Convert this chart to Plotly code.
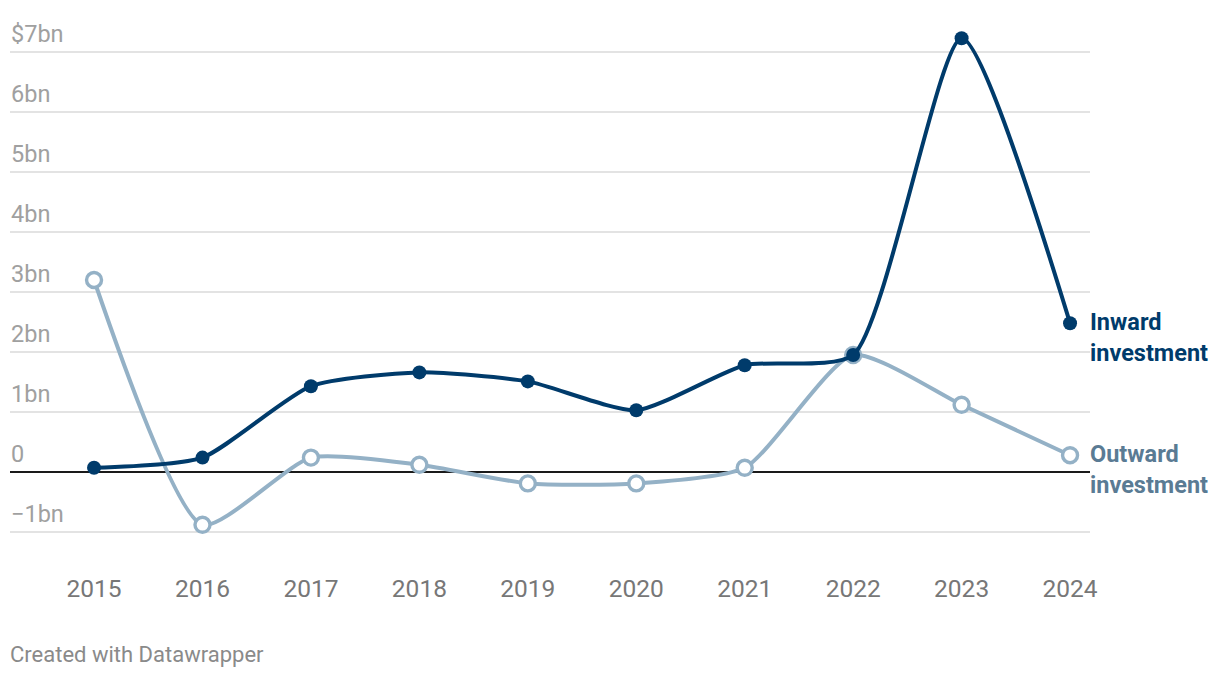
import plotly.graph_objects as go

years = [2015, 2016, 2017, 2018, 2019, 2020, 2021, 2022, 2023, 2024]
inward = [0.07, 0.24, 1.43, 1.66, 1.51, 1.03, 1.78, 1.95, 7.23, 2.48]
outward = [3.20, -0.88, 0.24, 0.12, -0.19, -0.19, 0.07, 1.95, 1.12, 0.28]

y_ticks = [-1, 0, 1, 2, 3, 4, 5, 6, 7]
y_tick_labels = ["\u22121bn", "0", "1bn", "2bn", "3bn", "4bn", "5bn", "6bn", "$7bn"]

INWARD_C = "#003b6b"
OUTWARD_C = "#94b1c6"
OUTWARD_LABEL_C = "#5a7b94"
FONT = "Roboto"

fig = go.Figure()

fig.add_trace(go.Scatter(
    x=years, y=outward, mode="lines+markers",
    line=dict(color=OUTWARD_C, width=4, shape="spline", smoothing=0.6),
    marker=dict(size=15, color="white", line=dict(color=OUTWARD_C, width=3.4)),
    showlegend=False, hoverinfo="skip",
))
fig.add_trace(go.Scatter(
    x=years, y=inward, mode="lines+markers",
    line=dict(color=INWARD_C, width=4, shape="spline", smoothing=0.6),
    marker=dict(size=14, color=INWARD_C),
    showlegend=False, hoverinfo="skip",
))

annotations = []
for v, lab in zip(y_ticks, y_tick_labels):
    annotations.append(dict(
        xref="paper", x=0, yref="y", y=v, xanchor="left", yanchor="bottom",
        text=lab, showarrow=False, yshift=2, xshift=-1,
        font=dict(family=FONT, size=23.5, color="#a0a0a0"),
    ))

annotations.append(dict(
    xref="paper", x=1, yref="y", y=inward[-1], xanchor="left", yanchor="top",
    text="<b>Inward<br>investment</b>", showarrow=False, yshift=17, xshift=-2,
    align="left", font=dict(family=FONT, size=23.5, color=INWARD_C),
))
annotations.append(dict(
    xref="paper", x=1, yref="y", y=outward[-1], xanchor="left", yanchor="top",
    text="<b>Outward<br>investment</b>", showarrow=False, yshift=17, xshift=-2,
    align="left", font=dict(family=FONT, size=23.5, color=OUTWARD_LABEL_C),
))
annotations.append(dict(
    xref="paper", x=0, yref="paper", y=-0.170, xanchor="left", yanchor="middle",
    text="Created with Datawrapper", showarrow=False, xshift=-2,
    font=dict(family=FONT, size=22, color="#8a8a8a"),
))

fig.update_layout(
    width=1212, height=670,
    margin=dict(l=2, r=130, t=8, b=116),
    plot_bgcolor="white", paper_bgcolor="white",
    font=dict(family=FONT),
    annotations=annotations,
    xaxis=dict(
        range=[2014.225, 2024.184], tickvals=years, ticktext=[str(y) for y in years],
        showgrid=False, zeroline=False, showline=False, ticks="",
        tickfont=dict(family=FONT, size=24.5, color="#777777"),
        ticklabelstandoff=9,
    ),
    yaxis=dict(
        range=[-1.5, 7.6], tickvals=y_ticks, showticklabels=False,
        showgrid=True, gridcolor="#e3e3e3", gridwidth=1.6,
        zeroline=True, zerolinecolor="#1a1a1a", zerolinewidth=2,
        showline=False, ticks="",
    ),
)

fig.write_html("out.html")
